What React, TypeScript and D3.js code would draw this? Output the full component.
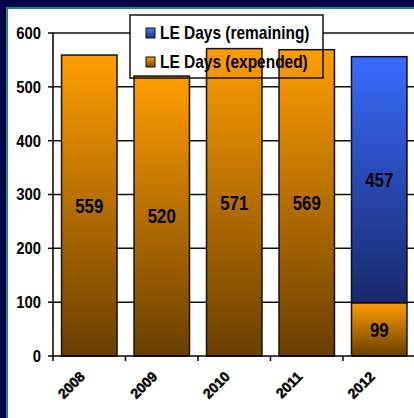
import React from "react";
import * as d3 from "d3";

const years = ["2008", "2009", "2010", "2011", "2012"];
const expended = [559, 520, 571, 569, 99];
const remaining = [0, 0, 0, 0, 457];
const yTicks = [0, 100, 200, 300, 400, 500, 600];
const seriesNames = ["LE Days (remaining)", "LE Days (expended)"];

function CText(props: { x: number; y: number; sx: number; size: number; anchor?: string; children: any; fill?: string }) {
  const { x, y, sx, size, anchor, children, fill } = props;
  return (
    <g transform={`translate(${x},${y}) scale(${sx},1)`}>
      <text x={0} y={0} dy="0.36em" textAnchor={anchor || "middle"} fontWeight="bold" fontSize={size} fill={fill || "#000"}>
        {children}
      </text>
    </g>
  );
}

export default function App() {
  const W = 414, H = 418;
  const x0 = 53, x1 = 415.5;
  const y = d3.scaleLinear().domain([0, 600]).range([356, 33]);
  const x = d3.scaleBand().domain(years).range([x0, x1]).paddingInner(0.235).paddingOuter(0.118);
  const font = "'Liberation Sans', Arial, sans-serif";
  const legend = { x: 130, y: 15, w: 193, h: 63 };
  return (
    <div style={{ position: "absolute", left: 0, top: 0, width: W, height: H }}>
      <svg width={W} height={H} style={{ display: "block" }} fontFamily={font}>
        <defs>
          <linearGradient id="gOr" x1="0" y1="0" x2="0" y2="1">
            <stop offset="0" stopColor="#FF9D00" />
            <stop offset="1" stopColor="#6A3F00" />
          </linearGradient>
          <linearGradient id="gBl" x1="0" y1="0" x2="0" y2="1">
            <stop offset="0" stopColor="#3A6CFF" />
            <stop offset="1" stopColor="#18286A" />
          </linearGradient>
          <linearGradient id="sOr" x1="0" y1="0" x2="0" y2="1">
            <stop offset="0" stopColor="#FF9D00" />
            <stop offset="1" stopColor="#7A4800" />
          </linearGradient>
          <linearGradient id="sBl" x1="0" y1="0" x2="0" y2="1">
            <stop offset="0" stopColor="#4A7CFF" />
            <stop offset="1" stopColor="#1A3080" />
          </linearGradient>
        </defs>
        <rect x={0} y={0} width={W} height={H} fill="#00004A" />
        <rect x={7} y={8} width={W} height={H} fill="#ffffff" stroke="#1A8A78" strokeWidth={2} />
        {yTicks.slice(1).map((t) => (
          <line key={t} x1={x0} x2={W} y1={y(t)} y2={y(t)} stroke="#111" strokeWidth={1.5} />
        ))}
        <rect x={legend.x} y={legend.y} width={legend.w} height={legend.h} fill="#fff" />
        {years.map((yr, i) => {
          const bx = x(yr)!;
          const bw = x.bandwidth();
          const e = expended[i];
          const r = remaining[i];
          return (
            <g key={yr}>
              <rect x={bx} y={y(e)} width={bw} height={y(0) - y(e)} fill="url(#gOr)" stroke="#1a1000" strokeWidth={1.5} />
              {r > 0 && (
                <rect x={bx} y={y(e + r)} width={bw} height={y(e) - y(e + r)} fill="url(#gBl)" stroke="#0a0a20" strokeWidth={1.5} />
              )}
            </g>
          );
        })}
        {years.map((yr, i) => {
          const cx = x(yr)! + x.bandwidth() / 2;
          const e = expended[i];
          const r = remaining[i];
          return (
            <g key={"l" + yr}>
              <CText x={cx} y={(y(0) + y(e)) / 2} sx={0.84} size={20}>{e}</CText>
              {r > 0 && <CText x={cx} y={(y(e) + y(e + r)) / 2} sx={0.84} size={20}>{r}</CText>}
            </g>
          );
        })}
        <line x1={x0} x2={x0} y1={y(600)} y2={y(0)} stroke="#000" strokeWidth={1.5} />
        {yTicks.map((t) => (
          <g key={"yt" + t}>
            <line x1={x0 - 5} x2={x0} y1={y(t)} y2={y(t)} stroke="#000" strokeWidth={1.5} />
            <CText x={41} y={y(t)} sx={0.9} size={16.5} anchor="end">{t}</CText>
          </g>
        ))}
        <line x1={x0} x2={W} y1={y(0)} y2={y(0)} stroke="#000" strokeWidth={1.5} />
        {years.map((yr, i) => {
          const tx = x0 + i * x.step();
          return <line key={"xt" + yr} x1={tx} x2={tx} y1={y(0)} y2={y(0) + 5} stroke="#000" strokeWidth={1.5} />;
        })}
        {years.map((yr) => {
          const cx = x(yr)! + x.bandwidth() / 2;
          return (
            <text key={"xl" + yr} transform={`translate(${cx - 11},${370}) rotate(-45)`} textAnchor="end" dy="0.75em"
              fontWeight="bold" fontSize={14} fill="#000" stroke="#000" strokeWidth={0.5}>{yr}</text>
          );
        })}
        <rect x={legend.x} y={legend.y} width={legend.w} height={legend.h} fill="none" stroke="#111" strokeWidth={1.5} />
        {seriesNames.map((n, i) => (
          <g key={n}>
            <rect x={legend.x + 16} y={legend.y + 13 + i * 29} width={9} height={10} fill={i === 0 ? "url(#sBl)" : "url(#sOr)"} stroke="#111" strokeWidth={1} />
            <CText x={legend.x + 30} y={legend.y + 18 + i * 29} sx={0.86} size={18} anchor="start">{n}</CText>
          </g>
        ))}
      </svg>
    </div>
  );
}
